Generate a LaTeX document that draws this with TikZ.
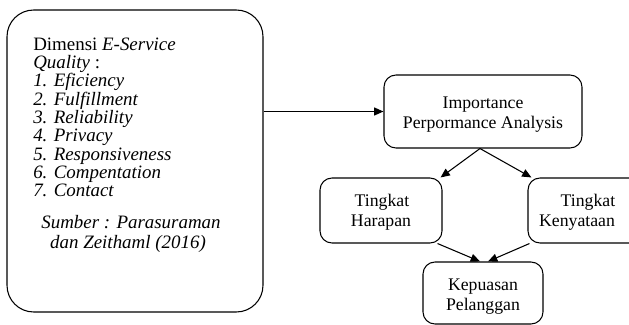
\documentclass[tikz,border=0pt]{standalone}
\usepackage{fontspec}
\setmainfont{Liberation Serif}
\newfontfamily\tnr{Liberation Serif}
\usetikzlibrary{arrows.meta,calc}
\begin{document}
\begin{tikzpicture}[x=0.75pt,y=-0.75pt,
  box/.style={draw,line width=0.8pt,rounded corners=9pt,inner sep=0pt},
  lt/.style={anchor=base west,inner sep=0pt,font=\tnr\fontsize{14.2}{14}\selectfont},
  ct/.style={anchor=base,inner sep=0pt,font=\tnr\fontsize{14.2}{14}\selectfont\itshape},
  rt/.style={anchor=base,inner sep=0pt,font=\tnr\fontsize{13.3}{15}\selectfont},
  arr/.style={line width=0.8pt,-{Triangle[length=7pt,width=6pt]}}]
\useasboundingbox (0,0) rectangle (629,325);
\begin{scope}
\clip (0,0) rectangle (629,325);
\node[box,rounded corners=20pt,minimum width=192pt,minimum height=226.5pt] (left) at (135,161) {};
\node[box,minimum width=148.5pt,minimum height=54.75pt] (ipa) at (483,111.5) {};
\node[box,minimum width=91.5pt,minimum height=48.75pt] (har) at (381,210.5) {};
\node[box,minimum width=90pt,minimum height=48.75pt] (ken) at (588,210.5) {};
\node[box,minimum width=90pt,minimum height=46.5pt] (kep) at (483,293) {};
\end{scope}
% left text
\node[lt] (l1) at (33,50) {Dimensi \textit{E-Service}};
\node[lt] (l2) at (33,68.3) {\textit{Quality} :};
\node[lt] (l3) at (33,86.6) {\textit{1. Eficiency}};
\node[lt] (l4) at (33,105) {\textit{2. Fulfillment}};
\node[lt] (l5) at (33,123.3) {\textit{3. Reliability}};
\node[lt] (l6) at (33,141.6) {\textit{4. Privacy}};
\node[lt] (l7) at (33,160) {\textit{5. Responsiveness}};
\node[lt] (l8) at (33,178.3) {\textit{6. Compentation}};
\node[lt] (l9) at (33,196.6) {\textit{7. Contact}};
\node[ct] (s1) at (131,228) {Sumber : Parasuraman};
\node[ct] (s2) at (128,248) {dan Zeithaml (2016)};
% right texts
\node[rt] (t1) at (483,108) {Importance};
\node[rt] (t2) at (483,128) {Perpormance Analysis};
\node[rt] (t3) at (382,206) {Tingkat};
\node[rt] (t4) at (381,226) {Harapan};
\node[rt] (t5) at (588,206) {Tingkat};
\node[rt] (t6) at (577,226) {Kenyataan};
\node[rt] (t7) at (483,290) {Kepuasan};
\node[rt] (t8) at (483,310) {Pelanggan};
% connectors
\draw[arr] (left.east |- ipa.west) -- (ipa.west);
\draw[arr] ($(ipa.south)+(-3,0)$) -- ($(har.north east)+(-2,0)$);
\draw[arr] ($(ipa.south)+(-3,0)$) -- ($(ken.north west)+(4,0)$);
\draw[arr] ($(har.south east)+(-5,0)$) -- ($(kep.north)+(-3,0)$);
\draw[arr] ($(ken.south west)+(2,0)$) -- ($(kep.north)+(5,0)$);
\end{tikzpicture}
\end{document}
